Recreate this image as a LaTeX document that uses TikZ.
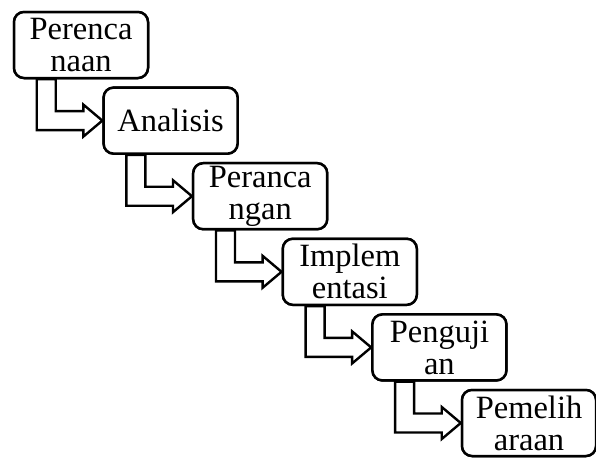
\documentclass[tikz,border=0pt]{standalone}
\usepackage{fontspec}
\setmainfont{Liberation Serif}
\usetikzlibrary{calc}
\tikzset{
  stagebox/.style={draw=black, line width=2.5pt, rounded corners=10pt, fill=white,
    minimum width=134pt, minimum height=66pt, inner sep=0pt, align=center,
    font=\fontsize{32.5}{32}\selectfont},
  bentarrow/.style={draw=black, line width=2.4pt, fill=white, line join=miter}
}
\newcommand{\bentarrow}[2]{%
  \draw[bentarrow]
    ($(#1.south west)+(24,0)$) coordinate (p1)
    -- (p1 |- {$(#2.west)+(0,-9.5)$}) coordinate (p2)
    -- ($(#2.west)+(-19,-9.5)$)
    -- ($(#2.west)+(-19,-16)$)
    -- (#2.west)
    -- ($(#2.west)+(-19,16)$)
    -- ($(#2.west)+(-19,9.5)$) coordinate (p7)
    -- ($(p1 |- p7)+(19,0)$)
    -- ($(p1)+(19,0)$)
    -- cycle;}
\begin{document}
\begin{tikzpicture}[x=1pt,y=1pt]
\useasboundingbox (0,0) rectangle (596,-459);
\node[stagebox] (b1) at (81,-45) {Perenca\\naan};
\node[stagebox] (b2) at (170.6,-120.6) {Analisis};
\node[stagebox] (b3) at (260.2,-196.2) {Peranca\\ngan};
\node[stagebox] (b4) at (349.8,-271.8) {Implem\\entasi};
\node[stagebox] (b5) at (439.4,-347.4) {Penguji\\an};
\node[stagebox] (b6) at (529,-423) {Pemelih\\araan};
\bentarrow{b1}{b2}
\bentarrow{b2}{b3}
\bentarrow{b3}{b4}
\bentarrow{b4}{b5}
\bentarrow{b5}{b6}
\foreach \n/\t in {b1/{Perenca\\naan},b2/{Analisis},b3/{Peranca\\ngan},b4/{Implem\\entasi},b5/{Penguji\\an},b6/{Pemelih\\araan}}
  \node[stagebox] at (\n) {\t};
\end{tikzpicture}
\end{document}
